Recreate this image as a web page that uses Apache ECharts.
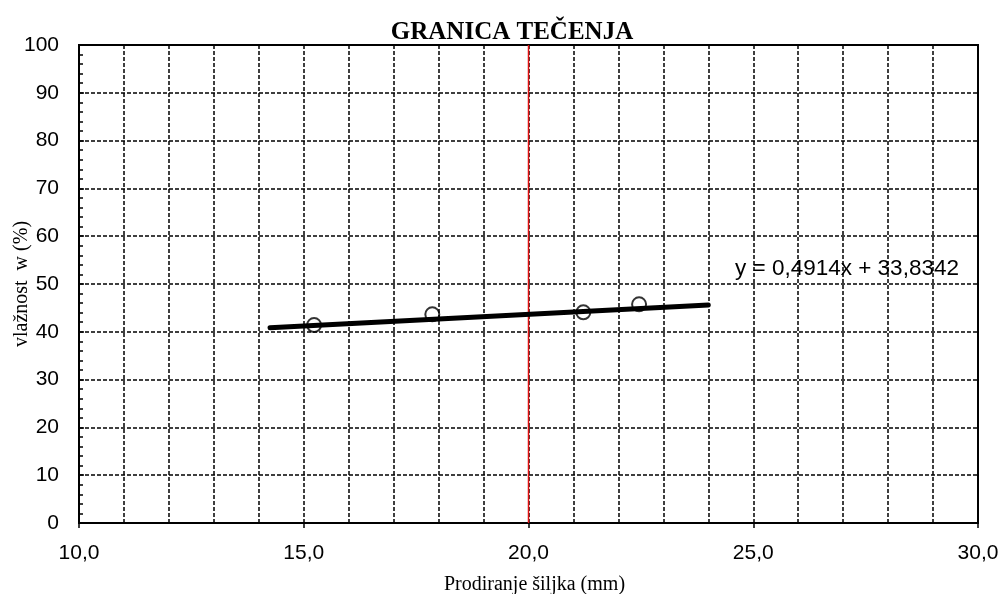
<!DOCTYPE html>
<html>
<head>
<meta charset="utf-8">
<script src="https://cdn.jsdelivr.net/npm/echarts@6/dist/echarts.min.js"></script>
<style>html,body{margin:0;padding:0;background:#fff}#c{width:1005px;height:594px}</style>
</head>
<body>
<div id="c"></div>
<script>
// ---- data ----
var titleText = 'GRANICA TEČENJA';
var xAxisName = 'Prodiranje šiljka (mm)';
var yAxisName = 'vlažnost  w (%)';
var penetration = [15.23, 17.86, 21.22, 22.46];
var moisture = [41.4, 43.66, 44.08, 45.75];
var trendX = [14.25, 24.0];
var trendY = [40.84, 45.63];
var redLineX = [20, 20];
var redLineY = [0, 100];
var equationText = 'y = 0,4914x + 33,8342';
var xMin = 10, xMax = 30, xStep = 5;
var yMin = 0, yMax = 100, yStep = 10;

function pairs(xs, ys){ return xs.map(function(x,i){ return [x, ys[i]]; }); }

var chart = echarts.init(document.getElementById('c'), null, {renderer:'canvas'});
var dash = [4,2];
chart.setOption({
  animation:false,
  backgroundColor:'#fff',
  title:{
    text:titleText, left:507, top:15, textAlign:'center',
    textStyle:{fontFamily:'Liberation Serif', fontWeight:'bold', fontSize:25, color:'#000'}
  },
  grid:{left:79, right:27, top:45, bottom:71, containLabel:false, outerBoundsMode:'none',
    show:true, borderColor:'#000', borderWidth:2, backgroundColor:'transparent'},
  xAxis:{
    type:'value', min:xMin, max:xMax, interval:xStep,
    name:xAxisName, nameLocation:'middle', nameGap:52, nameMoveOverlap:false,
    nameTextStyle:{fontFamily:'Liberation Serif', fontSize:20, color:'#000', padding:[0,0,0,12]},
    axisLine:{show:true, onZero:false, lineStyle:{color:'#000', width:2}},
    axisTick:{show:true, inside:false, length:5, lineStyle:{color:'#000', width:1.5}},
    minorTick:{show:false, splitNumber:5},
    axisLabel:{fontFamily:'Liberation Sans', fontSize:21, color:'#000', margin:20,
      formatter:function(v){ return v.toFixed(1).replace('.', ','); }},
    splitLine:{show:true, lineStyle:{color:'#000', width:1.5, type:dash}},
    minorSplitLine:{show:true, lineStyle:{color:'#000', width:1.5, type:dash}}
  },
  yAxis:{
    type:'value', min:yMin, max:yMax, interval:yStep,
    name:yAxisName, nameLocation:'middle', nameGap:47, nameRotate:90, nameMoveOverlap:false,
    nameTextStyle:{fontFamily:'Liberation Serif', fontSize:20, color:'#000'},
    axisLine:{show:true, onZero:false, lineStyle:{color:'#000', width:2}},
    axisTick:{show:true, inside:true, length:5, lineStyle:{color:'#000', width:1.5}},
    minorTick:{show:true, splitNumber:5, length:4, lineStyle:{color:'#000', width:1.5}},
    axisLabel:{fontFamily:'Liberation Sans', fontSize:21, color:'#000', margin:20},
    splitLine:{show:true, lineStyle:{color:'#000', width:1.5, type:dash}},
    minorSplitLine:{show:false}
  },
  graphic:[{
    type:'text', left:735, top:257,
    style:{text:equationText, font:'22.5px "Liberation Sans"', fill:'#000'}
  }],
  series:[
    {type:'line', data:pairs(redLineX, redLineY), symbol:'none', silent:true,
      lineStyle:{color:'#e01010', width:1.5}, z:3},
    {type:'scatter', data:pairs(penetration, moisture), symbol:'circle', symbolSize:14,
      itemStyle:{color:'rgba(255,255,255,0)', borderColor:'#000', borderWidth:2}, z:4},
    {type:'line', data:pairs(trendX, trendY), symbol:'none',
      lineStyle:{color:'#000', width:5, cap:'round'}, z:5}
  ]
});
</script>
</body>
</html>
